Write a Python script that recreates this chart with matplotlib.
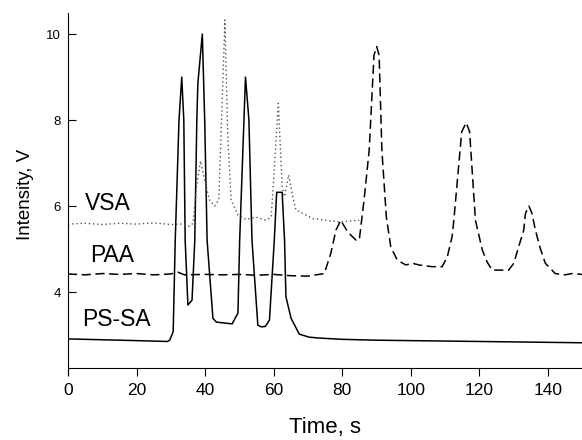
import matplotlib
matplotlib.use("Agg")
import matplotlib.pyplot as plt

plt.rcParams["font.family"] = ["Liberation Sans", "DejaVu Sans"]

# PS-SA (solid)
ps_t = [0, 10, 20, 29, 29.7, 30.7, 31.3, 32.4, 33.2, 33.8, 34.2, 35.0, 36.2, 37.0,
        37.6, 37.9, 39.2, 39.9, 40.6, 42.3, 43.3, 47.9, 49.6, 50.1, 51.8, 52.8, 53.7,
        55.4, 56.4, 57.6, 58.8, 60.2, 60.9, 62.5, 63.2, 63.6, 65.1, 67.5, 70.4, 73.3,
        80, 90, 100, 110, 120, 130, 140, 150]
ps_v = [2.91, 2.89, 2.87, 2.85, 2.88, 3.08, 5.2, 8.0, 9.0, 8.0, 5.2, 3.7, 3.81, 5.2,
        8.0, 8.85, 10.0, 8.0, 5.2, 3.39, 3.30, 3.26, 3.51, 5.2, 9.0, 8.0, 5.2,
        3.23, 3.19, 3.2, 3.35, 5.2, 6.32, 6.32, 5.2, 3.89, 3.39, 3.02, 2.95, 2.93,
        2.90, 2.88, 2.87, 2.86, 2.85, 2.84, 2.83, 2.82]

# VSA (dotted)
vsa_t = [0, 5, 10, 15, 20, 25, 30, 33, 35.5, 36.5, 37.5, 38.7, 39.9, 41.3, 42.8, 44.0,
         44.6, 45.8, 46.6, 47.6, 49.6, 52.0, 54.9, 57.8, 59.3, 60.2, 61.4, 62.5, 63.2,
         64.4, 65.6, 66.5, 68.5, 71.4, 75.3, 79.2, 82, 85]
vsa_v = [5.58, 5.6, 5.57, 5.6, 5.58, 5.61, 5.57, 5.58, 5.53, 5.6, 6.45, 7.05, 6.6, 6.14,
         6.0, 6.14, 7.5, 10.33, 7.7, 6.14, 5.79, 5.69, 5.74, 5.67, 5.75, 6.84, 8.39,
         6.45, 6.22, 6.72, 6.22, 5.91, 5.83, 5.71, 5.67, 5.63, 5.65, 5.67]

# PAA (dashed)
paa_t = [0, 5, 10, 15, 20, 25, 30, 32.1, 34, 40, 45, 50, 55, 60, 65, 70, 74.8, 76.7,
         78.2, 79.6, 81.6, 84.0, 85.0, 86.4, 87.9, 89.3, 90.1, 90.8, 91.6, 92.9, 94.2,
         96.1, 98.6, 100.5, 102.4, 106.3, 109.2, 110.7, 112.1, 112.6, 114.9, 116.2,
         117.2, 118.9, 120.9, 122.3, 123.8, 128.6, 130.1, 131.5, 133.0, 133.5, 134.5,
         135.4, 136.4, 137.8, 139.3, 142.2, 145.1, 147, 150]
paa_v = [4.42, 4.40, 4.43, 4.41, 4.43, 4.40, 4.42, 4.46, 4.40, 4.41, 4.40, 4.41, 4.39,
         4.41, 4.38, 4.37, 4.43, 4.9, 5.44, 5.67, 5.40, 5.21, 5.21, 6.14, 7.3, 9.51,
         9.71, 9.5, 7.3, 5.75, 5.05, 4.74, 4.63, 4.67, 4.63, 4.59, 4.59, 4.82, 5.29,
         5.67, 7.73, 7.94, 7.73, 5.67, 4.98, 4.7, 4.51, 4.51, 4.67, 5.05, 5.44, 5.83,
         6.0, 5.83, 5.44, 5.02, 4.67, 4.43, 4.40, 4.43, 4.41]

labels = ["VSA", "PAA", "PS-SA"]
label_pos = [(4.9, 6.06), (6.4, 4.85), (4.1, 3.36)]

fig = plt.figure(figsize=(5.82, 4.40), dpi=100)
ax = fig.add_axes([0.1168, 0.1477, 0.8832, 0.8227])

ax.plot(ps_t, ps_v, color="black", lw=1.1, ls="-")
ax.plot(vsa_t, vsa_v, color="#555555", lw=1.0, ls=(0, (1, 2)))
ax.plot(paa_t, paa_v, color="black", lw=1.1, ls=(0, (6, 3)))

for txt, (x, y) in zip(labels, label_pos):
    ax.text(x, y, txt, fontsize=16.5, ha="left", va="center")

ax.set_xlim(0, 150)
ax.set_ylim(2.07, 10.49)
ax.set_xticks([0, 20, 40, 60, 80, 100, 120, 140])
ax.set_yticks([4, 6, 8, 10])

ax.spines["top"].set_visible(False)
ax.spines["right"].set_visible(False)
ax.spines["bottom"].set_position(("data", 2.23))
ax.tick_params(axis="x", direction="out", length=6, labelsize=12.5, pad=5)
ax.tick_params(axis="y", direction="in", length=6, labelsize=9.5, pad=5)

ax.set_xlabel("Time, s", fontsize=16)
ax.set_ylabel("Intensity, V", fontsize=13.5)
ax.xaxis.set_label_coords(0.5, -0.115)
ax.yaxis.set_label_coords(-0.066, 0.5)

fig.savefig("out.png", dpi=100)
